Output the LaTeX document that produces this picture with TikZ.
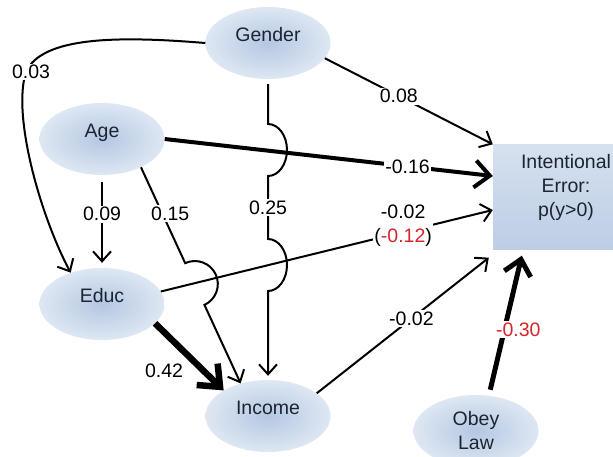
\documentclass[tikz,border=0pt]{standalone}
\usepackage{fontspec}
\setmainfont{Liberation Sans}
\usepackage{xcolor}
\usepackage{tikz}
\usetikzlibrary{shapes.geometric, arrows.meta, positioning, calc}
\definecolor{varin}{RGB}{180,199,226}
\definecolor{varout}{RGB}{222,231,243}
\definecolor{boxtop}{RGB}{214,225,240}
\definecolor{boxbot}{RGB}{189,205,229}
\definecolor{txtdark}{RGB}{28,36,50}
\definecolor{negred}{RGB}{214,38,45}
\tikzstyle{var} = [ellipse, minimum width=125pt, minimum height=72pt, inner sep=2pt, inner color=varin, outer color=varout, text=txtdark, text height=14pt, text depth=18pt]
\tikzstyle{outcome} = [rectangle, minimum width=146pt, minimum height=105pt, top color=boxtop, bottom color=boxbot]
\tikzstyle{link} = [line width=2pt, -{Straight Barb[length=10pt,width=18pt]}]
\tikzstyle{strong} = [line width=4pt, -{Straight Barb[length=15pt,width=27pt]}]
\tikzstyle{coef} = [fill=white, inner sep=1.5pt, text=black]

\begin{document}
\begin{tikzpicture}[x=1pt, y=1pt, font=\fontsize{19.5}{24}\selectfont]
    \clip (0,-456) rectangle (613,0);

    % Variables
    \node (gender) at (268,-43) [var] {Gender};
    \node (age) at (102,-139) [var] {Age};
    \node (educ) at (102,-304) [var] {Educ};
    \node (income) at (268,-416) [var] {Income};
    \node (obey) at (476,-431) [var, text height=, text depth=, align=center] {Obey\\Law};
    \node (int) at (566,-197) [outcome, label={[align=center, text=txtdark, yshift=10pt]center:Intentional\\Error:\\p(y>0)}] {};

    % Paths into Educ
    \draw[link] (gender.west) .. controls (120,-36) and (42,-36) .. (26,-72) node[coef, xshift=5pt] (c003) {0.03}
        .. controls (12,-115) and (40,-215) .. (educ.135);
    \draw[link, shorten <=7pt, shorten >=5pt] (age) -- node[coef, pos=0.42] (c009) {0.09} (educ);

    % Paths into Income (with hops)
    \coordinate (hopE) at ($(age.-36)!0.54!(income.130)$);
    \draw[link] let \p1 = ($(income.130)-(age.-36)$), \n1 = {atan2(\y1,\x1)} in
        (age.-36) -- node[coef, pos=0.48, xshift=8pt] (c015) {0.15} ($(hopE)!23pt!(age.-36)$)
        arc[start angle=\n1+180, end angle=\n1, radius=23pt] -- (income.130);
    \draw[link, shorten <=5pt, shorten >=4pt] (gender) -- (268,-124)
        arc[start angle=90, end angle=-90, x radius=19pt, y radius=26pt]
        -- node[coef, midway] (c025) {0.25} (268,-239)
        arc[start angle=90, end angle=-90, x radius=19pt, y radius=26pt] -- (income);
    \draw[line width=6.5pt, -{Straight Barb[length=18pt,width=30pt]}] (educ.-20) -- node[pos=0.62, anchor=east, xshift=-8pt, yshift=-6pt] (c042) {0.42} (income.north west);

    % Paths into Intentional Error
    \draw[link] (gender.-15) -- node[coef, pos=0.44] (c008) {0.08} (int.north west);
    \draw[strong] (age.east) -- node[coef, pos=0.74] (c016) {-0.16} ([yshift=21pt]int.west);
    \draw[link] (educ.12) -- node[coef, pos=0.73, yshift=6pt, align=center] (c002) {-0.02\\(\textcolor{negred}{-0.12})} ([yshift=-13pt]int.west);
    \draw[link] (income.25) -- node[coef, pos=0.55] (c002b) {-0.02} ([xshift=-4pt, yshift=-8pt]int.south west);
    \draw[strong, line width=5pt, shorten <=6pt] (obey.70) -- node[coef, pos=0.47, xshift=14pt, text=negred] (c030) {-0.30} ([xshift=29pt, yshift=-6pt]int.south west);
\end{tikzpicture}
\end{document}
